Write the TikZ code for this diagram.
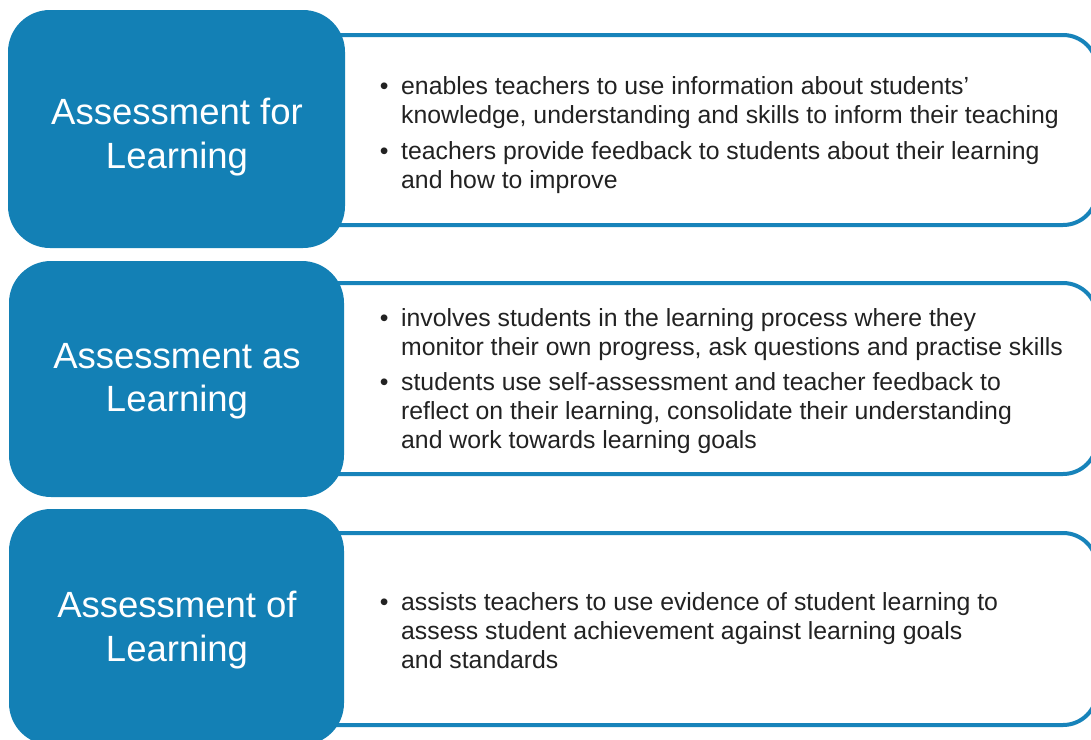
\documentclass[tikz,border=0pt]{standalone}
\usepackage{fontspec}
\setmainfont{Liberation Sans}
\definecolor{aBlue}{HTML}{1380B5}
\definecolor{aLine}{HTML}{1783BA}
\definecolor{aText}{HTML}{222222}
\tikzset{
  whitebox/.style={draw=aLine, line width=4pt, fill=white, rounded corners=34pt},
  bluebox/.style={fill=aBlue, rounded corners=42pt},
  title/.style={text=white, align=center, inner sep=0pt, font=\fontsize{36.5}{43.5}\selectfont},
  body/.style={text=aText, inner sep=0pt, anchor=west, font=\fontsize{24.8}{29}\selectfont}
}
\newcommand{\bodytab}[1]{\begin{tabular}{@{}l@{\hspace{12.6pt}}l@{}}#1\end{tabular}}
\begin{document}
\begin{tikzpicture}[x=1pt,y=-1pt]
\useasboundingbox (0,0) rectangle (1091,739);
\clip (0,0) rectangle (1091,739);
\fill[white] (0,0) rectangle (1091,739);
% white boxes
\draw[whitebox] (300,35) rectangle (1097,225);
\draw[whitebox] (300,283) rectangle (1097,474);
\draw[whitebox] (300,533) rectangle (1097,725);
% blue boxes
\fill[bluebox] (8,10) rectangle (345,248);
\fill[bluebox] (9,261) rectangle (344,497);
\fill[bluebox] (9,509) rectangle (344,745);
% titles
\node[title] (t1) at (177,137) {Assessment for\\Learning};
\node[title] (t2) at (177,381) {Assessment as\\Learning};
\node[title] (t3) at (177,630) {Assessment of\\Learning};
% bodies
\node[body] (b1) at (379.7,135.5) {\bodytab{%
• & enables teachers to use information about students’\\
 & knowledge, understanding and skills to inform their teaching\\[6.5pt]
• & teachers provide feedback to students about their learning\\
 & and how to improve}};
\node[body] (b2) at (379.7,381.7) {\bodytab{%
• & involves students in the learning process where they\\
 & monitor their own progress, ask questions and practise skills\\[6.5pt]
• & students use self-assessment and teacher feedback to\\
 & reflect on their learning, consolidate their understanding\\
 & and work towards learning goals}};
\node[body] (b3) at (379.7,634) {\bodytab{%
• & assists teachers to use evidence of student learning to\\
 & assess student achievement against learning goals\\
 & and standards}};
\end{tikzpicture}
\end{document}
